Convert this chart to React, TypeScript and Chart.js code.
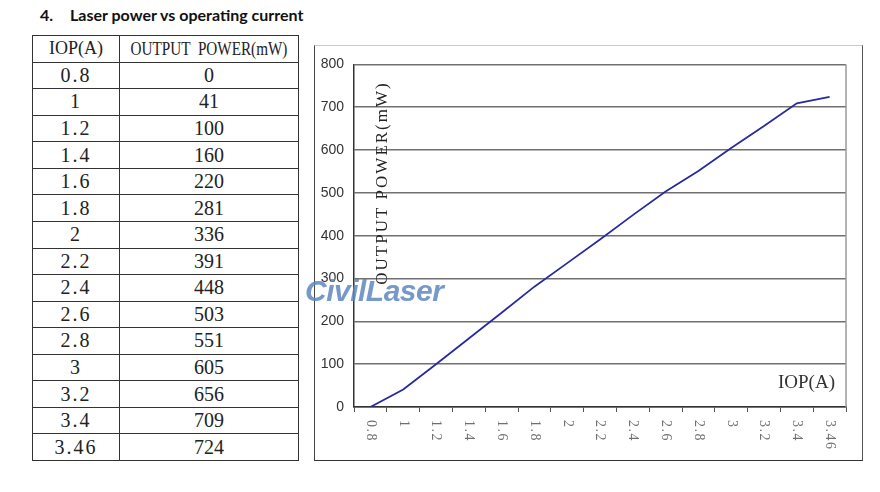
import React, { useEffect, useRef } from "react";
import { Chart, registerables } from "chart.js";

Chart.register(...registerables);

// ---- data ----
const currents = ["0.8", "1", "1.2", "1.4", "1.6", "1.8", "2", "2.2", "2.4", "2.6", "2.8", "3", "3.2", "3.4", "3.46"];
const powers = [0, 41, 100, 160, 220, 281, 336, 391, 448, 503, 551, 605, 656, 709, 724];
const yMin = 0;
const yMax = 800;
const yStep = 100;

const pageTitleNum = "4.";
const pageTitle = "Laser power vs operating current";
const colHeadCurrent = "IOP(A)";
const colHeadPower = "OUTPUT  POWER(mW)";
const yAxisTitle = "OUTPUT POWER(mW)";
const xAxisTitle = "IOP(A)";
const watermark = "CivilLaser";

const overlayPlugin = {
  id: "overlay",
  afterDraw(chart: any) {
    const { ctx, chartArea, scales } = chart;
    const xs = scales.x;
    ctx.save();
    // right border of plot
    ctx.strokeStyle = "#9a9a9a";
    ctx.lineWidth = 1.5;
    ctx.beginPath();
    ctx.moveTo(chartArea.right, chartArea.top);
    ctx.lineTo(chartArea.right, chartArea.bottom);
    ctx.stroke();

    // rotated x tick labels (clockwise)
    ctx.fillStyle = "#707070";
    ctx.font = '14px "Liberation Serif"';
    (ctx as any).letterSpacing = "1.5px";
    ctx.textAlign = "left";
    ctx.textBaseline = "middle";
    currents.forEach((lab, i) => {
      const x = xs.getPixelForTick(i);
      ctx.save();
      ctx.translate(x, chartArea.bottom + 13);
      ctx.rotate(Math.PI / 2);
      ctx.fillText(lab, 0, 0);
      ctx.restore();
    });

    // y axis title inside plot
    ctx.fillStyle = "#222";
    ctx.font = '17px "Liberation Serif"';
    (ctx as any).letterSpacing = "2px";
    ctx.textAlign = "center";
    ctx.textBaseline = "middle";
    ctx.save();
    ctx.translate(68, 137);
    ctx.rotate(-Math.PI / 2);
    ctx.fillText(yAxisTitle, 0, 0);
    ctx.restore();

    // x axis title
    (ctx as any).letterSpacing = "0px";
    ctx.font = '19px "Liberation Serif"';
    ctx.textAlign = "right";
    ctx.fillStyle = "#333";
    ctx.fillText(xAxisTitle, 520, 337);
    ctx.restore();
  },
};

function ChartBox() {
  const ref = useRef<HTMLCanvasElement | null>(null);
  useEffect(() => {
    if (!ref.current) return;
    const chart = new Chart(ref.current, {
      type: "line",
      data: {
        labels: currents,
        datasets: [
          {
            data: powers,
            borderColor: "#2a2aa0",
            borderWidth: 1.8,
            pointRadius: 0,
            tension: 0,
            fill: false,
          },
        ],
      },
      options: {
        animation: false,
        responsive: false,
        maintainAspectRatio: false,
        devicePixelRatio: 1,
        layout: { autoPadding: false, padding: { top: 7, right: 16, left: 0, bottom: 0 } },
        plugins: {
          legend: { display: false },
          tooltip: { enabled: false },
          title: { display: false },
        },
        scales: {
          x: {
            type: "category",
            offset: true,
            grid: {
              offset: true,
              drawOnChartArea: false,
              drawTicks: true,
              tickLength: 5,
              color: "#555",
              lineWidth: 1,
            },
            border: { display: true, color: "#333", width: 1.5 },
            ticks: { display: false },
            afterFit: (s: any) => {
              s.height = 53;
            },
          },
          y: {
            min: yMin,
            max: yMax,
            ticks: {
              stepSize: yStep,
              padding: 10,
              color: "#333",
              font: { family: '"Liberation Sans Narrow", "Liberation Sans"', size: 14 },
            },
            grid: { color: "#707070", lineWidth: 1.5, drawTicks: false },
            border: { color: "#333", width: 1.5 },
            afterFit: (s: any) => {
              s.width = 39;
            },
          },
        },
      } as any,
      plugins: [overlayPlugin],
    });
    return () => chart.destroy();
  }, []);
  return <canvas ref={ref} width={547} height={414} style={{ display: "block", width: 547, height: 414 }} />;
}

const cellBase: React.CSSProperties = {
  borderRight: "1px solid #333",
  borderBottom: "1px solid #333",
  display: "flex",
  alignItems: "center",
  justifyContent: "center",
  fontFamily: '"Liberation Serif", serif',
  color: "#222",
  whiteSpace: "pre",
  overflow: "hidden",
};

export default function App() {
  return (
    <div style={{ position: "fixed", left: 0, top: 0, width: 880, height: 492, background: "#fff", overflow: "hidden" }}>
      <div
        style={{
          position: "absolute",
          left: 40,
          top: 5,
          fontFamily: "Lato, sans-serif",
          fontWeight: 700,
          fontSize: 16,
          lineHeight: "20px",
          color: "#111",
          whiteSpace: "nowrap",
        }}
      >
        <span style={{ display: "inline-block", width: 30 }}>{pageTitleNum}</span>
        <span>{pageTitle}</span>
      </div>

      <div
        style={{
          position: "absolute",
          left: 32,
          top: 35,
          width: 267,
          height: 426,
          boxSizing: "border-box",
          borderLeft: "1px solid #333",
          borderTop: "1px solid #333",
          display: "grid",
          gridTemplateColumns: "87px 179px",
          gridTemplateRows: "repeat(16, 1fr)",
        }}
      >
        <div style={{ ...cellBase, fontSize: 18 }}>{colHeadCurrent}</div>
        <div style={{ ...cellBase, fontSize: 19 }}>
          <span style={{ display: "inline-block", transform: "scaleX(0.8)" }}>{colHeadPower}</span>
        </div>
        {currents.map((c, i) => (
          <React.Fragment key={c}>
            <div style={{ ...cellBase, fontSize: 20, letterSpacing: "2px" }}>{c}</div>
            <div style={{ ...cellBase, fontSize: 20 }}>{String(powers[i])}</div>
          </React.Fragment>
        ))}
      </div>

      <div
        style={{
          position: "absolute",
          left: 314,
          top: 45,
          width: 549,
          height: 416,
          boxSizing: "border-box",
          borderLeft: "1px solid #444",
          borderTop: "1px solid #c8c8c8",
          borderRight: "1px solid #555",
          borderBottom: "1px solid #333",
        }}
      >
        <ChartBox />
      </div>

      <div
        style={{
          position: "absolute",
          left: 305,
          top: 276,
          fontFamily: '"Liberation Sans", sans-serif',
          fontWeight: 700,
          fontStyle: "italic",
          fontSize: 30,
          lineHeight: "30px",
          color: "rgba(95, 135, 192, 0.85)",
          letterSpacing: "-0.5px",
          pointerEvents: "none",
          whiteSpace: "nowrap",
        }}
      >
        {watermark}
      </div>
    </div>
  );
}
